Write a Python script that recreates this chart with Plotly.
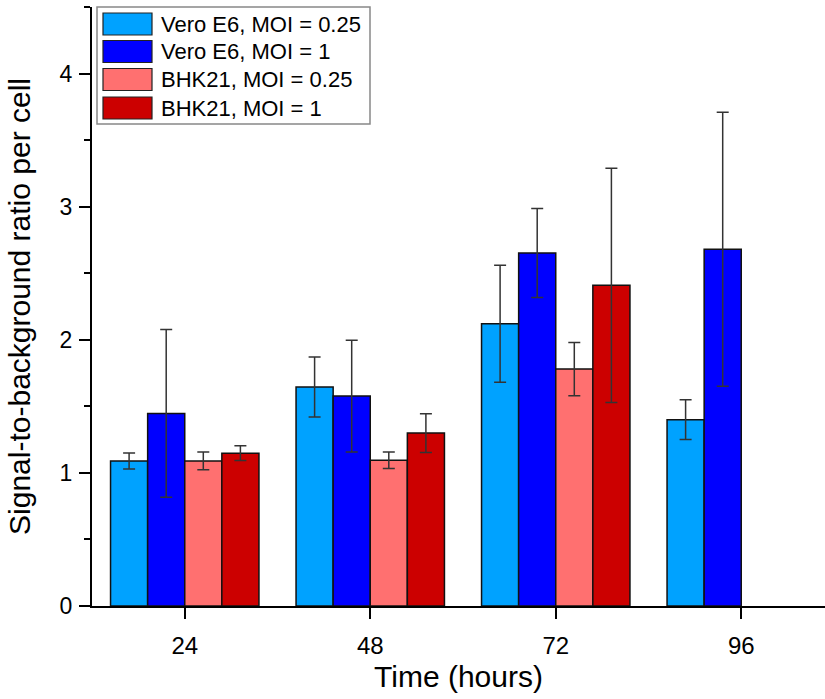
import plotly.graph_objects as go

hours = [24, 48, 72, 96]
tick_labels = ["24", "48", "72", "96"]

series_names = ["Vero E6, MOI = 0.25", "Vero E6, MOI = 1", "BHK21, MOI = 0.25", "BHK21, MOI = 1"]
vero_025 = [1.09, 1.645, 2.12, 1.40]
vero_025_err = [0.06, 0.225, 0.44, 0.15]
vero_1 = [1.447, 1.577, 2.652, 2.68]
vero_1_err = [0.63, 0.42, 0.335, 1.03]
bhk_025 = [1.09, 1.095, 1.78, None]
bhk_025_err = [0.067, 0.062, 0.20, None]
bhk_1 = [1.148, 1.299, 2.409, None]
bhk_1_err = [0.055, 0.145, 0.88, None]

values = [vero_025, vero_1, bhk_025, bhk_1]
errors = [vero_025_err, vero_1_err, bhk_025_err, bhk_1_err]
colors = ["#00A2FF", "#0000FF", "#FF7070", "#CC0000"]

W, H = 825, 699
ML, MR, MT, MB = 92, 0, 7, 93
PW, PH = W - ML - MR, H - MT - MB

def px_x(p):
    return (p - ML) / PW

def px_y(p):
    return 1 - (p - MT) / PH

fig = go.Figure()
for name, v, e, c in zip(series_names, values, errors, colors):
    fig.add_trace(go.Bar(
        x=hours, y=v, name=name,
        marker=dict(color=c, line=dict(color="#111111", width=1.5)),
        error_y=dict(type="data", array=e, visible=True, color="#333333", thickness=1.5, width=6),
    ))

font_family = "Liberation Sans, Arial, sans-serif"

# Legend drawn as layout decoration (box, swatches, labels)
shapes = [dict(type="rect", xref="paper", yref="paper",
               x0=px_x(97), x1=px_x(370), y0=px_y(124), y1=px_y(7),
               line=dict(color="#888888", width=1.5), fillcolor="white", layer="above")]
annotations = []
row_centers = [24, 51.5, 79.5, 108]
for name, c, yc in zip(series_names, colors, row_centers):
    shapes.append(dict(type="rect", xref="paper", yref="paper",
                       x0=px_x(103), x1=px_x(152), y0=px_y(yc + 11), y1=px_y(yc - 11),
                       line=dict(color="#222222", width=1.2), fillcolor=c, layer="above"))
    annotations.append(dict(xref="paper", yref="paper", x=px_x(159), y=px_y(yc),
                            xanchor="left", yanchor="middle", text=name, showarrow=False,
                            font=dict(size=22, family=font_family, color="black")))

fig.update_layout(
    width=W, height=H,
    margin=dict(l=ML, r=MR, t=MT, b=MB),
    barmode="group", bargap=0.2, bargroupgap=0,
    plot_bgcolor="white", paper_bgcolor="white",
    font=dict(family=font_family, color="black", size=22),
    showlegend=False,
    shapes=shapes,
    annotations=annotations,
    xaxis=dict(
        range=[12, 12 + PW / 185.5 * 24],
        tickmode="array", tickvals=hours, ticktext=tick_labels,
        ticks="outside", ticklen=11, tickwidth=2, tickcolor="black",
        showline=True, linecolor="black", linewidth=2,
        showgrid=False, zeroline=False, automargin=False,
        tickfont=dict(size=24), ticklabelstandoff=6,
        title=dict(text="Time (hours)", font=dict(size=30), standoff=8),
    ),
    yaxis=dict(
        range=[0, 4.5],
        tickmode="array", tickvals=[0, 1, 2, 3, 4],
        ticks="outside", ticklen=11, tickwidth=2, tickcolor="black",
        minor=dict(tickmode="array", tickvals=[0.5, 1.5, 2.5, 3.5, 4.5], ticks="outside", ticklen=6, tickwidth=2, tickcolor="black"),
        showline=True, linecolor="black", linewidth=2,
        showgrid=False, zeroline=False, automargin=False,
        tickfont=dict(size=23), ticklabelstandoff=2,
        title=dict(text="Signal-to-background ratio per cell", font=dict(size=30), standoff=20),
    ),
)

fig.write_html("out.html", config={"displayModeBar": False},
               post_script="document.body.style.margin='0';")
